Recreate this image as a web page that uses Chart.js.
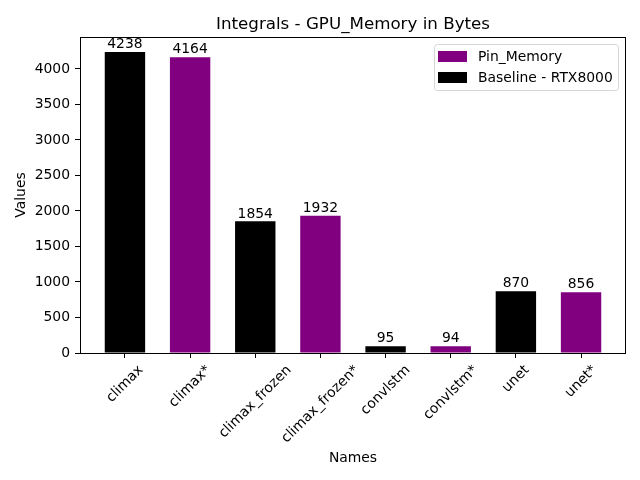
<!DOCTYPE html>
<html>
<head>
<meta charset="utf-8">
<script src="https://cdn.jsdelivr.net/npm/chart.js@4.4.1/dist/chart.umd.min.js"></script>
<style>
  html, body { margin: 0; padding: 0; background: #fff; }
  #wrap { width: 640px; height: 480px; }
</style>
</head>
<body>
<div id="wrap"><canvas id="chart" width="640" height="480"></canvas></div>
<script>
// data
const names = ["climax", "climax*", "climax_frozen", "climax_frozen*", "convlstm", "convlstm*", "unet", "unet*"];
const values = [4238, 4164, 1854, 1932, 95, 94, 870, 856];
const isPinned = [false, true, false, true, false, true, false, true];
const yTicks = [0, 500, 1000, 1500, 2000, 2500, 3000, 3500, 4000];
const legendItems = ["Pin_Memory", "Baseline - RTX8000"];

const PURPLE = "#800080";
const BLACK = "#000000";
const FONT = "'DejaVu Sans', sans-serif";

const chartTitle = "Integrals - GPU_Memory in Bytes";

// box around plot, title, rotated x labels, value labels, legend
const decor = {
  id: "decor",
  afterDraw(chart) {
    const ctx = chart.ctx;
    const a = chart.chartArea;
    ctx.save();

    // frame
    ctx.strokeStyle = "#000";
    ctx.lineWidth = 1;
    ctx.strokeRect(Math.round(a.left) + 0.5, Math.round(a.top) + 0.5,
      Math.round(a.right - a.left) - 1, Math.round(a.bottom - a.top));

    // title
    ctx.fillStyle = "#000";
    ctx.font = "16.7px " + FONT;
    ctx.textAlign = "center";
    ctx.textBaseline = "alphabetic";
    ctx.fillText(chartTitle, (a.left + a.right) / 2, a.top - 8);

    // value labels over bars
    const meta = chart.getDatasetMeta(0);
    ctx.font = "13.9px " + FONT;
    ctx.textBaseline = "bottom";
    meta.data.forEach((bar, i) => {
      ctx.fillText(String(values[i]), bar.x, bar.y - 0.5);
    });

    // x tick labels, rotated 45deg, centred on tick
    const xs = chart.scales.x;
    const top = a.bottom + 10;
    names.forEach((n, i) => {
      const w = ctx.measureText(n).width;
      const h = 13.9;
      const H = (w + h) * Math.SQRT1_2;
      const px = xs.getPixelForValue(i);
      ctx.save();
      ctx.translate(px, top + H / 2);
      ctx.rotate(-Math.PI / 4);
      ctx.textAlign = "center";
      ctx.textBaseline = "middle";
      ctx.fillText(n, 0, 0);
      ctx.restore();
    });

    // legend
    const bw = 184, bh = 46;
    const bx = a.right - 8 - bw, by = a.top + 7;
    ctx.beginPath();
    ctx.roundRect(bx + 0.5, by + 0.5, bw, bh, 3);
    ctx.fillStyle = "rgba(255,255,255,0.8)";
    ctx.fill();
    ctx.strokeStyle = "#d6d6d6";
    ctx.stroke();
    const colors = [PURPLE, BLACK];
    ctx.textAlign = "left";
    ctx.textBaseline = "middle";
    legendItems.forEach((t, i) => {
      const cy = by + 12.5 + i * 21;
      ctx.fillStyle = colors[i];
      ctx.fillRect(bx + 4, cy - 5.5, 29, 11);
      ctx.fillStyle = "#000";
      ctx.fillText(t, bx + 44, cy + 0.5);
    });

    ctx.restore();
  }
};

new Chart(document.getElementById("chart"), {
  type: "bar",
  data: {
    datasets: [{
      data: values.map((v, i) => ({ x: i, y: v })),
      backgroundColor: isPinned.map(p => p ? PURPLE : BLACK),
      barPercentage: 0.62,
      categoryPercentage: 1,
      borderWidth: 0,
      inflateAmount: 0,
    }],
  },
  options: {
    responsive: false,
    animation: false,
    devicePixelRatio: 1,
    layout: { padding: { left: 0, right: 14, top: 37, bottom: 0 } },
    plugins: {
      legend: { display: false },
      tooltip: { enabled: false },
      title: { display: false },
    },
    scales: {
      x: {
        type: "linear",
        offset: false,
        min: -0.69,
        max: 7.69,
        afterBuildTicks: s => { s.ticks = names.map((_, i) => ({ value: i })); },
        afterFit: s => { s.height = 127; },
        ticks: { display: false },
        grid: { display: true, offset: false, drawOnChartArea: false, drawTicks: true, tickLength: 5, color: "#000" },
        border: { display: false },
        title: { display: true, text: "Names", color: "#000", font: { family: FONT, size: 13.9 }, padding: { top: 0, bottom: 13 } },
      },
      y: {
        min: 0,
        max: 4450,
        afterBuildTicks: s => { s.ticks = yTicks.map(v => ({ value: v })); },
        afterFit: s => { s.width = 80; },
        ticks: { color: "#000", font: { family: FONT, size: 13.9 }, padding: 5, callback: v => String(v) },
        grid: { display: true, drawOnChartArea: false, drawTicks: true, tickLength: 5, color: "#000" },
        border: { display: false },
        title: { display: true, text: "Values", color: "#000", font: { family: FONT, size: 13.9 }, padding: { top: 13, bottom: 0 } },
      },
    },
  },
  plugins: [decor],
});
</script>
</body>
</html>
